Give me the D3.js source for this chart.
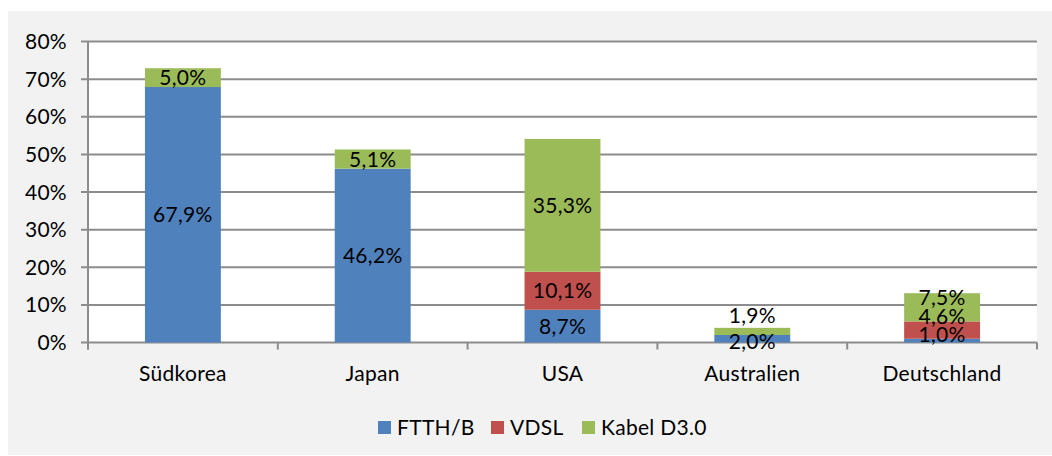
<!DOCTYPE html>
<html>
<head>
<meta charset="utf-8">
<script src="https://cdn.jsdelivr.net/npm/d3@7"></script>
<style>
  body { margin: 0; background: #fff; }
  text { font-family: Lato, "Open Sans", sans-serif; fill: #000; font-size: 21px; letter-spacing: 0.3px; }
</style>
</head>
<body>
<div id="chart"></div>
<script>
// Daten
const laender = ['Südkorea', 'Japan', 'USA', 'Australien', 'Deutschland']
const ftth = [67.9, 46.2, 8.7, 2.0, 1.0]
const vdsl = [0, 0, 10.1, 0, 4.6]
const kabel = [5.0, 5.1, 35.3, 1.9, 7.5]
const serien = ['FTTH/B', 'VDSL', 'Kabel D3.0']
const yTicks = [0, 10, 20, 30, 40, 50, 60, 70, 80]

const farben = ['#4f81bd', '#c0504d', '#9bbb59']
const fmt = v => d3.format('.1f')(v).replace('.', ',') + '%'

const W = 1052, H = 456
const plot = { left: 88, right: 1037, top: 41.5, bottom: 342.5 }

const svg = d3.select('#chart').append('svg')
    .attr('width', W)
    .attr('height', H)

// Hintergrund
svg.append('rect')
    .attr('x', 8).attr('y', 11)
    .attr('width', W - 8).attr('height', 444)
    .attr('fill', '#f2f2f2')

svg.append('rect')
    .attr('x', plot.left).attr('y', plot.top)
    .attr('width', plot.right - plot.left).attr('height', plot.bottom - plot.top)
    .attr('fill', '#fff')

const x = d3.scaleBand()
    .domain(laender)
    .range([plot.left, plot.right])
    .paddingInner(0.6)
    .paddingOuter(0.3)

const y = d3.scaleLinear()
    .domain([0, 80])
    .range([plot.bottom, plot.top])

// Gitternetz
svg.append('g')
    .selectAll('line')
    .data(yTicks)
    .enter()
    .append('line')
    .attr('x1', plot.left - 7)
    .attr('x2', plot.right)
    .attr('y1', d => y(d))
    .attr('y2', d => y(d))
    .attr('stroke', '#8c8c8c')
    .attr('stroke-width', 2)

// y-Achse
svg.append('line')
    .attr('x1', plot.left).attr('x2', plot.left)
    .attr('y1', plot.top).attr('y2', plot.bottom + 7)
    .attr('stroke', '#8c8c8c')
    .attr('stroke-width', 2)

svg.append('g')
    .selectAll('text')
    .data(yTicks)
    .enter()
    .append('text')
    .attr('x', 67)
    .attr('y', d => y(d))
    .attr('dy', '0.36em')
    .attr('text-anchor', 'end')
    .text(d => d + '%')

// x-Achse Striche
const step = x.step()
svg.append('g')
    .selectAll('line')
    .data(d3.range(laender.length + 1))
    .enter()
    .append('line')
    .attr('x1', i => plot.left + i * step)
    .attr('x2', i => plot.left + i * step)
    .attr('y1', plot.bottom)
    .attr('y2', plot.bottom + 7)
    .attr('stroke', '#8c8c8c')
    .attr('stroke-width', 2)

svg.append('g')
    .selectAll('text')
    .data(laender)
    .enter()
    .append('text')
    .attr('x', d => x(d) + x.bandwidth() / 2)
    .attr('y', 381)
    .attr('text-anchor', 'middle')
    .text(d => d)

// Stapel
const tabelle = laender.map((l, i) => ({ land: l, 'FTTH/B': ftth[i], 'VDSL': vdsl[i], 'Kabel D3.0': kabel[i] }))
const stapel = d3.stack().keys(serien)(tabelle)

stapel.forEach((s, k) => {
    svg.append('g')
        .selectAll('rect')
        .data(s)
        .enter()
        .append('rect')
        .attr('x', d => x(d.data.land))
        .attr('width', x.bandwidth())
        .attr('y', d => y(d[1]))
        .attr('height', d => y(d[0]) - y(d[1]))
        .attr('fill', farben[k])
})

// Beschriftungen, überlappende auseinanderschieben (wie Excel)
laender.forEach((l, i) => {
    let labels = []
    stapel.forEach(s => {
        const d = s[i]
        if (d[1] - d[0] > 0) labels.push({ v: d[1] - d[0], y: y((d[0] + d[1]) / 2) })
    })
    const viele = labels.length > 2
    const minAbstand = viele ? 18.5 : 26
    // von unten nach oben
    for (let j = 1; j < labels.length; j++) {
        if (labels[j - 1].y - labels[j].y < minAbstand) {
            const mitte = (labels[j - 1].y + labels[j].y) / 2
            labels[j - 1].y = mitte + minAbstand / 2
            labels[j].y = mitte - minAbstand / 2
        }
    }
    const grenze = plot.bottom - (viele ? 8 : 1.5)
    if (labels.length > 1 && labels[0].y > grenze) {
        const diff = labels[0].y - grenze
        labels.forEach(o => o.y -= diff)
    }
    for (let j = 1; j < labels.length; j++) {
        if (labels[j - 1].y - labels[j].y < minAbstand) labels[j].y = labels[j - 1].y - minAbstand
    }
    svg.append('g')
        .selectAll('text')
        .data(labels)
        .enter()
        .append('text')
        .attr('x', x(l) + x.bandwidth() / 2)
        .attr('y', d => d.y)
        .attr('dy', '0.36em')
        .attr('text-anchor', 'middle')
        .text(d => fmt(d.v))
})

// Legende
const legX = [378, 491, 582]
const legende = svg.append('g')
serien.forEach((s, k) => {
    legende.append('rect')
        .attr('x', legX[k]).attr('y', 421)
        .attr('width', 13).attr('height', 13)
        .attr('fill', farben[k])
    legende.append('text')
        .attr('x', legX[k] + 19)
        .attr('y', 435)
        .text(s)
})
</script>
</body>
</html>
